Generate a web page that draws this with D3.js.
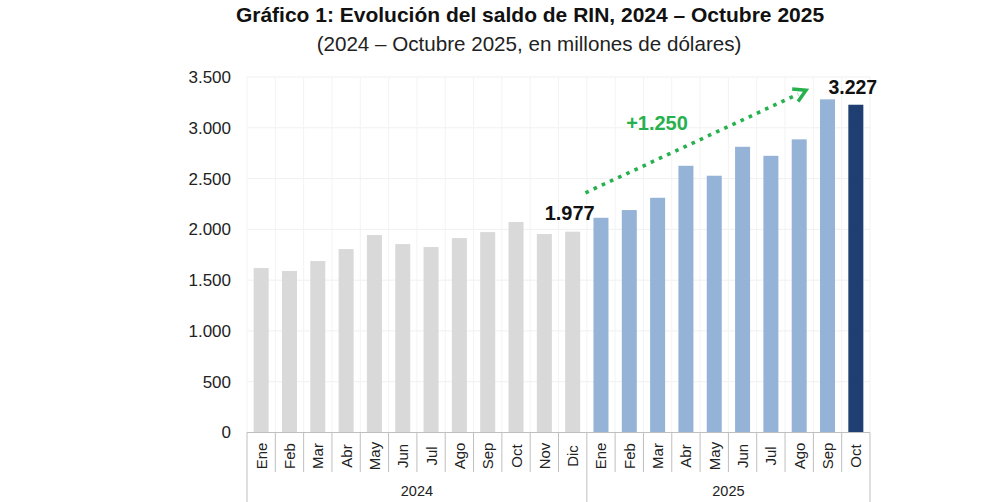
<!DOCTYPE html>
<html>
<head>
<meta charset="utf-8">
<script src="https://d3js.org/d3.v7.min.js"></script>
<style>
body { margin: 0; background: #fff; }
svg { font-family: "Liberation Sans", Arial, sans-serif; }
</style>
</head>
<body>
<svg id="chart" width="1000" height="502"></svg>
<script>
// months and years on the x axis
var months = ["Ene","Feb","Mar","Abr","May","Jun","Jul","Ago","Sep","Oct","Nov","Dic",
              "Ene","Feb","Mar","Abr","May","Jun","Jul","Ago","Sep","Oct"];
var years = ["2024","2025"];
var monthsPerYear = [12, 10];

// RIN balance, millions of dollars
var values2024 = [1619, 1590, 1688, 1806, 1944, 1855, 1826, 1914, 1973, 2072, 1954, 1977];
var values2025 = [2114, 2190, 2311, 2626, 2528, 2813, 2724, 2886, 3280, 3227];

var yTicks = [0, 500, 1000, 1500, 2000, 2500, 3000, 3500];
var labelStart = "1.977", labelEnd = "3.227", labelDelta = "+1.250";

var svg = d3.select("#chart");
var plotLeft = 247, plotRight = 870, plotTop = 77, plotBottom = 432.5;

var values = values2024.concat(values2025);
var idx = d3.range(values.length);

var x = d3.scaleBand().domain(idx).range([plotLeft, plotRight]).paddingInner(0.47).paddingOuter(0.235);
var xs = d3.scaleLinear().domain([0, values.length]).range([plotLeft, plotRight]);
var y = d3.scaleLinear().domain([0, 3500]).range([plotBottom, plotTop]);

// title
svg.append("text").attr("x", 530).attr("y", 22).attr("text-anchor", "middle")
  .attr("font-size", 21).attr("font-weight", "bold").attr("fill", "#111")
  .text("Gráfico 1: Evolución del saldo de RIN, 2024 – Octubre 2025");
svg.append("text").attr("x", 529).attr("y", 50.5).attr("text-anchor", "middle")
  .attr("font-size", 20.6).attr("fill", "#222")
  .text("(2024 – Octubre 2025, en millones de dólares)");

// faint grid
svg.append("g").selectAll("line").data(yTicks.slice(1)).enter().append("line")
  .attr("x1", plotLeft).attr("x2", plotRight)
  .attr("y1", function(d) { return y(d); }).attr("y2", function(d) { return y(d); })
  .attr("stroke", "#f0f0f0");
svg.append("g").selectAll("line").data(d3.range(values.length + 1)).enter().append("line")
  .attr("x1", function(d) { return xs(d); }).attr("x2", function(d) { return xs(d); })
  .attr("y1", plotTop).attr("y2", plotBottom)
  .attr("stroke", "#f3f3f3");

// y axis labels
var yAxis = d3.axisLeft(y).tickValues(yTicks).tickSize(0).tickPadding(16)
  .tickFormat(function(d) { return d3.format(",")(d).replace(/,/g, "."); });
svg.append("g").attr("transform", "translate(" + plotLeft + ",0)").call(yAxis)
  .call(function(g) { g.select(".domain").remove(); })
  .selectAll("text").attr("font-size", 17).attr("fill", "#222")
  .attr("font-family", "Liberation Sans, Arial, sans-serif");

// bars
svg.append("g").selectAll("rect").data(idx).enter().append("rect")
  .attr("x", function(i) { return x(i); })
  .attr("width", x.bandwidth())
  .attr("y", function(i) { return y(values[i]); })
  .attr("height", function(i) { return plotBottom - y(values[i]); })
  .attr("fill", function(i) {
    if (i < 12) return "#d9d9d9";
    if (i === values.length - 1) return "#1f3f73";
    return "#95b3d7";
  });

// x axis: base line, month separators, year separators
svg.append("line").attr("x1", plotLeft).attr("x2", plotRight).attr("y1", plotBottom).attr("y2", plotBottom)
  .attr("stroke", "#bfbfbf");
svg.append("g").selectAll("line").data(d3.range(values.length + 1)).enter().append("line")
  .attr("x1", function(d) { return xs(d); }).attr("x2", function(d) { return xs(d); })
  .attr("y1", plotBottom).attr("y2", 472).attr("stroke", "#bfbfbf");
var yearEdges = [0, monthsPerYear[0], monthsPerYear[0] + monthsPerYear[1]];
svg.append("g").selectAll("line").data(yearEdges).enter().append("line")
  .attr("x1", function(d) { return xs(d); }).attr("x2", function(d) { return xs(d); })
  .attr("y1", 472).attr("y2", 502).attr("stroke", "#bfbfbf");

svg.append("g").selectAll("text").data(idx).enter().append("text")
  .attr("transform", function(i) {
    return "translate(" + (x(i) + x.bandwidth() / 2 + 5.5) + ",456) rotate(-90)";
  })
  .attr("text-anchor", "middle").attr("font-size", 15).attr("fill", "#222")
  .text(function(i) { return months[i]; });

svg.append("g").selectAll("text").data(years).enter().append("text")
  .attr("x", function(d, i) { return (xs(yearEdges[i]) + xs(yearEdges[i + 1])) / 2; })
  .attr("y", 496).attr("text-anchor", "middle").attr("font-size", 14.5).attr("fill", "#222")
  .text(function(d) { return d; });

// value labels
var iDic = 11, iLast = values.length - 1;
svg.append("text").attr("x", x(iDic) + x.bandwidth() / 2 - 3).attr("y", y(values[iDic]) - 12)
  .attr("text-anchor", "middle").attr("font-size", 20).attr("font-weight", "bold").attr("fill", "#111")
  .text(labelStart);
svg.append("text").attr("x", x(iLast) + x.bandwidth() / 2 - 3).attr("y", y(3335))
  .attr("text-anchor", "middle").attr("font-size", 19.5).attr("font-weight", "bold").attr("fill", "#111")
  .text(labelEnd);

// dotted green arrow
var green = "#26b14e";
var ax1 = x(iDic + 1) - 8, ay1 = y(2360), ax2 = x(iLast - 1) - 14, ay2 = y(3370);
svg.append("line").attr("x1", ax1).attr("y1", ay1).attr("x2", ax2 - 8).attr("y2", ay2 + 4)
  .attr("stroke", green).attr("stroke-width", 3.6)
  .attr("stroke-dasharray", "3.6 5.4");
var ang = Math.atan2(ay2 - ay1, ax2 - ax1) * 180 / Math.PI;
svg.append("path").attr("d", "M-12,-7 L0,0 L-12,7")
  .attr("transform", "translate(" + ax2 + "," + ay2 + ") rotate(" + ang + ")")
  .attr("fill", "none").attr("stroke", green).attr("stroke-width", 3.5)
  .attr("stroke-linejoin", "miter");
svg.append("text").attr("x", 657).attr("y", 130).attr("text-anchor", "middle")
  .attr("font-size", 20).attr("font-weight", "bold").attr("fill", green)
  .text(labelDelta);
</script>
</body>
</html>
